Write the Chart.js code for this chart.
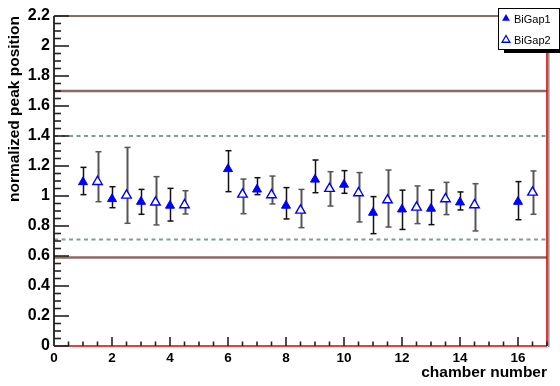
<!DOCTYPE html>
<html>
<head>
<meta charset="utf-8">
<script src="https://cdn.jsdelivr.net/npm/chart.js@4.4.0/dist/chart.umd.min.js"></script>
<style>
  html, body { margin: 0; padding: 0; background: #fff; }
</style>
</head>
<body>
<canvas id="peakChart" width="560" height="386"></canvas>
<script>
// BiGap1: filled triangles, on the integer chamber numbers
const gap1Chambers = [1, 2, 3, 4, 6, 7, 8, 9, 10, 11, 12, 13, 14, 16];
const gap1Values = [1.093, 0.98, 0.962, 0.936, 1.18, 1.044, 0.936, 1.11, 1.076, 0.889, 0.911, 0.916, 0.958, 0.962];
const gap1Upper = [1.191, 1.062, 1.044, 1.051, 1.302, 1.122, 1.056, 1.24, 1.169, 0.996, 1.039, 1.04, 1.027, 1.096];
const gap1Lower = [1.009, 0.922, 0.878, 0.833, 1.029, 1.009, 0.847, 1.022, 1.018, 0.749, 0.777, 0.809, 0.907, 0.842];

// BiGap2: open triangles, shifted by half a chamber
const gap2Chambers = [1.5, 2.5, 3.5, 4.5, 6.5, 7.5, 8.5, 9.5, 10.5, 11.5, 12.5, 13.5, 14.5, 16.5];
const gap2Values = [1.095, 1.004, 0.958, 0.94, 1.011, 1.007, 0.904, 1.049, 1.02, 0.973, 0.924, 0.98, 0.94, 1.024];
const gap2Upper = [1.295, 1.324, 1.129, 1.035, 1.113, 1.133, 1.044, 1.162, 1.156, 1.173, 1.067, 1.091, 1.082, 1.167];
const gap2Lower = [0.962, 0.818, 0.807, 0.88, 0.882, 0.947, 0.789, 0.933, 0.827, 0.793, 0.816, 0.876, 0.767, 0.878];

// limit lines
const solidLimits = [0.59, 1.7];
const dottedLimits = [0.71, 1.4];

// tick labels
const xTicks = [0, 2, 4, 6, 8, 10, 12, 14, 16];
const yTicks = [0, 0.2, 0.4, 0.6, 0.8, 1, 1.2, 1.4, 1.6, 1.8, 2, 2.2];

const FONT = "'Liberation Sans', Helvetica, Arial, sans-serif";
const BLUE = '#0000ff';

function toPoints(xs, ys) {
  return xs.map((x, i) => ({ x: x, y: ys[i] }));
}

function line(ctx, x1, y1, x2, y2, color, width) {
  ctx.beginPath();
  ctx.strokeStyle = color;
  ctx.lineWidth = width;
  ctx.moveTo(x1, y1);
  ctx.lineTo(x2, y2);
  ctx.stroke();
}

// ROOT style frame, inner ticks, limit lines, error bars and legend box
const rootFrame = {
  id: 'rootFrame',
  beforeDatasetsDraw(chart) {
    const ctx = chart.ctx;
    const xs = chart.scales.x;
    const ys = chart.scales.y;
    const L = xs.getPixelForValue(0), R = xs.getPixelForValue(17);
    ctx.save();

    // limit lines
    solidLimits.forEach(v => {
      const py = ys.getPixelForValue(v);
      line(ctx, L, py, R, py, 'rgb(140,106,92)', 2.5);
    });
    ctx.setLineDash([4, 3.5]);
    dottedLimits.forEach(v => {
      const py = ys.getPixelForValue(v);
      line(ctx, L, py, R, py, 'rgb(128,160,140)', 2);
    });
    ctx.setLineDash([]);

    // error bars
    function drawBars(cx, up, lo, color, width) {
      cx.forEach((c, i) => {
        const px = Math.round(xs.getPixelForValue(c)) + 0.5;
        const pt = ys.getPixelForValue(up[i]);
        const pb = ys.getPixelForValue(lo[i]);
        line(ctx, px, pt, px, pb, color, width);
        line(ctx, px - 3, pt, px + 3, pt, color, 1.5);
        line(ctx, px - 3, pb, px + 3, pb, color, 1.5);
      });
    }
    drawBars(gap1Chambers, gap1Upper, gap1Lower, '#111', 1.5);
    drawBars(gap2Chambers, gap2Upper, gap2Lower, '#555', 2);

    ctx.restore();
  },
  afterDraw(chart) {
    const ctx = chart.ctx;
    const xs = chart.scales.x;
    const ys = chart.scales.y;
    const L = xs.getPixelForValue(0), R = xs.getPixelForValue(17);
    const T = ys.getPixelForValue(2.2), B = ys.getPixelForValue(0);
    ctx.save();

    // frame
    line(ctx, L, T, R, T, 'rgb(96,58,48)', 1.6);
    line(ctx, R + 1.8, T, R + 1.8, B + 1, '#999', 1.6);
    line(ctx, R, T, R, B, '#e00000', 1.6);
    line(ctx, L, B, R, B, '#e00000', 1.6);
    line(ctx, L, T, L, B, '#000', 1.6);

    // inner ticks
    for (let k = 0; k <= 44; k++) {
      const py = ys.getPixelForValue(k * 0.05);
      const len = k % 4 === 0 ? 15 : 7;
      line(ctx, L, py, L + len, py, '#222', 1.6);
    }
    for (let k = 1; k <= 34; k++) {
      const px = xs.getPixelForValue(k * 0.5);
      const len = k % 4 === 0 ? 9 : 4.5;
      line(ctx, px, B, px, B - len, '#222', 1.6);
    }

    // legend box
    const bx = 498, by = 8, bw = 61, bh = 41;
    ctx.fillStyle = '#000';
    ctx.fillRect(bx + 6, by + bh, bw, 4);
    ctx.fillRect(bx + bw, by + 4, 4, bh);
    ctx.fillStyle = '#fff';
    ctx.fillRect(bx, by, bw, bh);
    ctx.strokeStyle = '#000';
    ctx.lineWidth = 1;
    ctx.strokeRect(bx + 0.5, by + 0.5, bw, bh);

    const items = [
      { label: chart.data.datasets[0].label, y: by + 10.5, filled: true },
      { label: chart.data.datasets[1].label, y: by + 32, filled: false }
    ];
    items.forEach(it => {
      const tx = bx + 8, r = 4.5;
      ctx.beginPath();
      ctx.moveTo(tx, it.y - r);
      ctx.lineTo(tx + r * 0.87, it.y + r * 0.5);
      ctx.lineTo(tx - r * 0.87, it.y + r * 0.5);
      ctx.closePath();
      if (it.filled) {
        ctx.fillStyle = BLUE;
        ctx.fill();
      } else {
        ctx.strokeStyle = BLUE;
        ctx.lineWidth = 1.3;
        ctx.stroke();
      }
      ctx.fillStyle = '#000';
      ctx.font = '11px ' + FONT;
      ctx.textBaseline = 'middle';
      ctx.textAlign = 'left';
      ctx.fillText(it.label, bx + 16, it.y + 1);
    });

    ctx.restore();
  }
};

new Chart(document.getElementById('peakChart'), {
  type: 'scatter',
  data: {
    datasets: [{
      label: 'BiGap1',
      data: toPoints(gap1Chambers, gap1Values),
      pointStyle: 'triangle',
      pointRadius: 5.2,
      backgroundColor: BLUE,
      borderColor: BLUE,
      borderWidth: 1
    }, {
      label: 'BiGap2',
      data: toPoints(gap2Chambers, gap2Values),
      pointStyle: 'triangle',
      pointRadius: 5.5,
      backgroundColor: '#fff',
      borderColor: BLUE,
      borderWidth: 1.4
    }]
  },
  options: {
    responsive: false,
    animation: false,
    devicePixelRatio: 1,
    layout: { padding: { top: 16, right: 13, left: 0, bottom: 0 } },
    plugins: {
      legend: { display: false },
      tooltip: { enabled: false }
    },
    scales: {
      x: {
        type: 'linear',
        position: 'bottom',
        min: 0,
        max: 17,
        grid: { display: false, drawTicks: false },
        border: { display: false },
        afterBuildTicks: s => { s.ticks = xTicks.map(v => ({ value: v })); },
        afterFit: s => { s.height = 40; },
        ticks: {
          padding: 4,
          maxRotation: 0,
          autoSkip: false,
          color: '#000',
          font: { family: FONT, size: 13.5, weight: 'bold' },
          callback: v => String(Math.round(v * 10) / 10)
        },
        title: {
          display: true,
          text: 'chamber number',
          align: 'end',
          color: '#000',
          padding: { top: 0, bottom: 4 },
          font: { family: FONT, size: 15.5, weight: 'bold' }
        }
      },
      y: {
        type: 'linear',
        min: 0,
        max: 2.2,
        grid: { display: false, drawTicks: false },
        border: { display: false },
        afterBuildTicks: s => { s.ticks = yTicks.map(v => ({ value: v })); },
        afterFit: s => { s.width = 54; },
        ticks: {
          padding: 4,
          autoSkip: false,
          color: '#000',
          font: { family: FONT, size: 16, weight: 'bold' },
          callback: v => String(Math.round(v * 10) / 10)
        },
        title: {
          display: true,
          text: 'normalized peak position',
          align: 'end',
          color: '#000',
          padding: { top: 5, bottom: 0 },
          font: { family: FONT, size: 15.5, weight: 'bold' }
        }
      }
    }
  },
  plugins: [rootFrame]
});
</script>
</body>
</html>
